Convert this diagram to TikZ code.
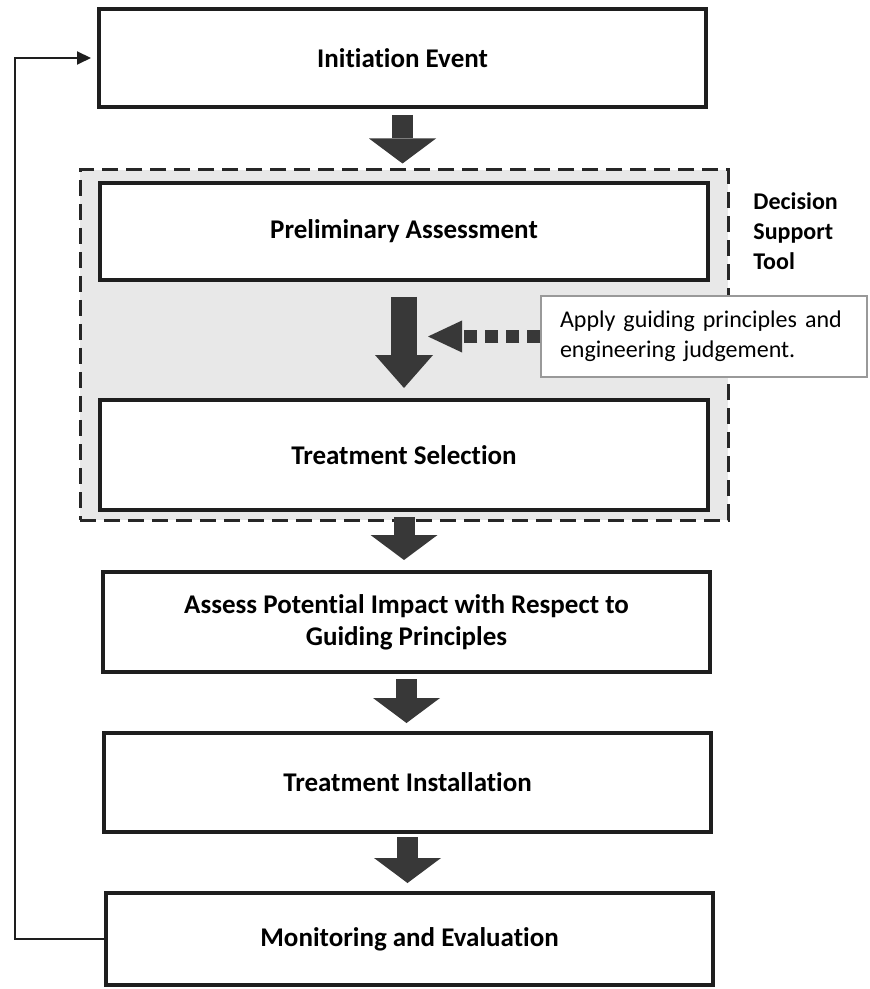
\documentclass[tikz,border=0pt]{standalone}
\usepackage{fontspec}
\setmainfont{Carlito}[Ligatures=NoCommon]
\usetikzlibrary{arrows.meta,calc}
\definecolor{arrowgray}{HTML}{383838}
\definecolor{boxline}{HTML}{1E1E1E}
\definecolor{dstfill}{HTML}{E8E8E8}
\begin{document}
\begin{tikzpicture}[x=0.5pt,y=-0.5pt,
  stepbox/.style={draw=boxline, line width=2pt, fill=white, rectangle, minimum width=303.5pt, inner sep=0pt, font=\bfseries\fontsize{13.5}{16}\selectfont, align=center},
  blockarrow/.style={draw=arrowgray, line width=10.5pt, -{Triangle[width=33.5pt,length=12.5pt,line width=0pt]}},
  bigblockarrow/.style={draw=arrowgray, line width=13pt, -{Triangle[width=29pt,length=16.5pt,line width=0pt]}},
  dotarrow/.style={draw=arrowgray, line width=6pt, dash pattern=on 6.5pt off 4pt, -{Triangle[width=16pt,length=17pt,line width=0pt]}},
  feedback/.style={draw=boxline, line width=1pt, -{Triangle[length=7pt,width=6.5pt]}},
  dstbox/.style={draw=black!85, line width=1.5pt, dash pattern=on 8pt off 4pt, fill=dstfill, rectangle, inner sep=0pt},
  callbox/.style={draw=gray!80, line width=0.7pt, fill=white, text width=144pt, inner xsep=9.5pt, inner ysep=0pt, minimum height=40.5pt, align=left, font=\fontsize{12}{15}\selectfont},
  sidelabel/.style={anchor=west, align=left, font=\bfseries\fontsize{12}{15}\selectfont, inner sep=0pt}
]
\useasboundingbox (0,0) rectangle (869,989);

% decision support tool region
\node[dstbox, minimum width=324pt, minimum height=175pt] (dst) at (404,345) {};
\node[sidelabel] (dstlabel) at (753,231) {Decision\\Support\\Tool};

% step boxes
\node[stepbox, minimum height=49pt] (init) at (402.5,58) {Initiation Event};
\node[stepbox, minimum width=304pt, minimum height=48.5pt] (prelim) at (404,231.5) {Preliminary Assessment};
\node[stepbox, minimum width=304pt, minimum height=55pt] (treat) at (404,455) {Treatment Selection};
\node[stepbox, minimum height=50pt] (assess) at (406.5,622) {Assess Potential Impact with Respect to\\Guiding Principles};
\node[stepbox, minimum height=49.5pt] (install) at (407.5,782.5) {Treatment Installation};
\node[stepbox, minimum height=46pt] (monitor) at (409.5,939) {Monitoring and Evaluation};

% callout
\node[callbox] (callout) at (704,336.5) {Apply guiding principles and\\engineering judgement.};
\coordinate (dtip) at (428,336.5);

% block arrows
\draw[blockarrow, shorten <=3pt, shorten >=2.5pt] (init.south) -- (init.south |- dst.north);
\draw[bigblockarrow, shorten <=7.5pt, shorten >=5pt] (prelim.south) -- (prelim.south |- treat.north);
\draw[blockarrow, shorten <=2.5pt, shorten >=5pt] (treat.south) -- (treat.south |- assess.north);
\draw[blockarrow, shorten <=2.5pt, shorten >=4pt] (assess.south) -- (assess.south |- install.north);
\draw[blockarrow, shorten <=1.5pt, shorten >=4pt] (install.south) -- (install.south |- monitor.north);

% dotted arrow from callout
\draw[dotarrow] (callout.west) -- (dtip);

% feedback loop
\draw[feedback, shorten >=3pt] (monitor.west) -- ++(-89,0) |- (init.west);
\end{tikzpicture}
\end{document}
